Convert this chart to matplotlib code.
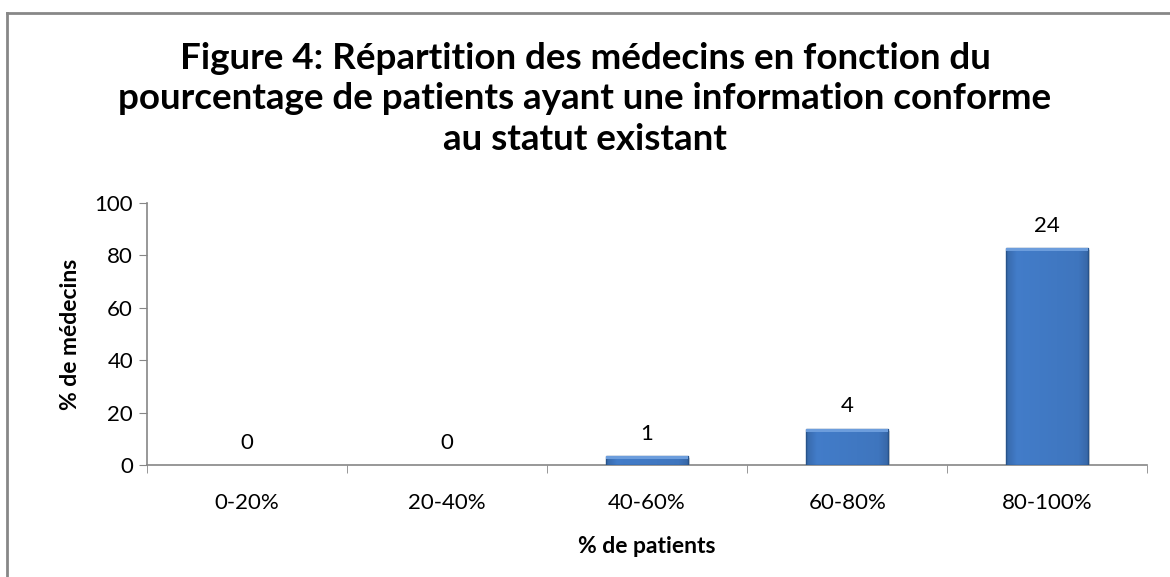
import numpy as np
import matplotlib.pyplot as plt
from matplotlib.lines import Line2D
from matplotlib.patches import Rectangle

categories = ["0-20%", "20-40%", "40-60%", "60-80%", "80-100%"]
counts = [0, 0, 1, 4, 24]
percents = [0.0, 0.0, 3.45, 13.79, 82.76]

plt.rcParams['font.family'] = ['Lato', 'DejaVu Sans']

fig = plt.figure(figsize=(11.7, 5.77), dpi=100)
ax = fig.add_axes([0.1256, 0.194, 0.855, 0.454])

x = np.arange(len(categories))
w = 0.41

# bevel-like horizontal shading for the bars
prof = np.concatenate([np.linspace(0.45, 0.9, 6), np.linspace(0.9, 0.75, 30),
                       np.linspace(0.75, 0.4, 6)])
base = np.array([0x40, 0x78, 0xc2]) / 255.0
grad = np.clip(base[None, None, :] * (0.72 + 0.35 * prof[None, :, None]), 0, 1)

for xi, p, c in zip(x, percents, counts):
    if p > 0:
        # shadow
        ax.add_patch(Rectangle((xi - w / 2 + 0.01, -0.8), w, p, color="#b0b0b0",
                               alpha=0.5, zorder=2, linewidth=0))
        im = ax.imshow(grad, extent=(xi - w / 2, xi + w / 2, 0, p), aspect="auto",
                       zorder=3, interpolation="bilinear")
        r = Rectangle((xi - w / 2, 0), w, p, fill=False, edgecolor="#27538a",
                      linewidth=1.0, zorder=4)
        ax.add_patch(r)
        im.set_clip_path(r)
        # lighter top bevel
        ax.add_patch(Rectangle((xi - w / 2, p - min(1.2, p * 0.3)), w, min(1.2, p * 0.3),
                               color="#6c9ddc", linewidth=0, zorder=4))
    ax.annotate(str(c), (xi, p), xytext=(0, 9), textcoords="offset points",
                ha="center", va="bottom", fontsize=16)

ax.set_xlim(-0.5, len(categories) - 0.5)
ax.set_ylim(0, 100)
ax.set_yticks(np.arange(0, 101, 20))
ax.set_xticks(x)
ax.set_xticklabels(categories)
ax.set_xticks(np.arange(-0.5, len(categories)), minor=True)
ax.tick_params(axis="x", which="major", length=0, labelsize=16, pad=20)
ax.tick_params(axis="x", which="minor", length=6, color="#868686")
ax.tick_params(axis="y", length=6, color="#868686", labelsize=16, pad=4)

for s in ["top", "right"]:
    ax.spines[s].set_visible(False)
for s in ["left", "bottom"]:
    ax.spines[s].set_color("#868686")
    ax.spines[s].set_linewidth(1.2)

ax.set_ylabel("% de médecins", fontsize=16.5, fontweight="bold", labelpad=10)
ax.set_xlabel("% de patients", fontsize=16.5, fontweight="bold", labelpad=17)

fig.text(0.5, 0.928, "Figure 4: Répartition des médecins en fonction du\n"
         "pourcentage de patients ayant une information conforme\n"
         "au statut existant", ha="center", va="top", fontsize=26.5,
         fontweight="bold", linespacing=1.28)

# chart frame: only the top and left edges are visible in the crop
fig.add_artist(Line2D([7 / 1170, 7 / 1170], [0, 1 - 13 / 577], transform=fig.transFigure,
                      color="#878787", linewidth=2))
fig.add_artist(Line2D([7 / 1170, 1], [1 - 13 / 577, 1 - 13 / 577], transform=fig.transFigure,
                      color="#878787", linewidth=2))

plt.savefig("out.png", dpi=100)
plt.close()
